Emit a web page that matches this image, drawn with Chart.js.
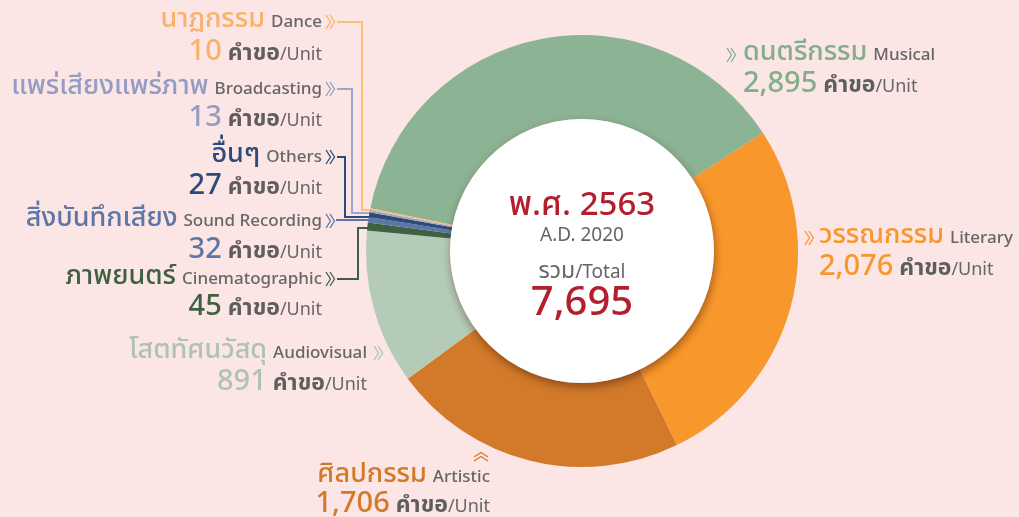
<!DOCTYPE html>
<html><head><meta charset="utf-8">
<script src="https://cdn.jsdelivr.net/npm/chart.js@4"></script>
<style>html,body{margin:0;padding:0;background:#FBE5E5;overflow:hidden}#wrap{width:1019px;height:517px;position:relative}</style>
</head><body><div id="wrap"><canvas id="c"></canvas></div>
<script>
const categoriesTh = ['ดนตรีกรรม','วรรณกรรม','ศิลปกรรม','โสตทัศนวัสดุ','ภาพยนตร์','สิ่งบันทึกเสียง','อื่นๆ','แพร่เสียงแพร่ภาพ','นาฏกรรม'];
const categoriesEn = ['Musical','Literary','Artistic','Audiovisual','Cinematographic','Sound Recording','Others','Broadcasting','Dance'];
const values = [2895,2076,1706,891,45,32,27,13,10];
const sliceColors = ['#8CB393','#F8972B','#D27A2A','#B4CBB7','#3D6242','#5C76A6','#2C4B7A','#9DA6CB','#FBBE7B'];
const textColors = ['#82AE8A','#F8972B','#D27A2A','#AFC3B1','#3D6242','#5C76A6','#2C4B7A','#939CC2','#F9B26B'];
const unitTh = 'คำขอ';
const unitEn = 'Unit';
const yearTh = 'พ.ศ. 2563';
const yearEn = 'A.D. 2020';
const totalTh = 'รวม';
const totalEn = 'Total';

const FONT = '"Noto Sans Thai","Noto Sans Thai UI","Noto Sans","DejaVu Sans",sans-serif';
const GRAY = '#666666';
const RED = '#B31F2D';

// layout of the annotation texts (positions only)
const layout = [
  {x:743, t:60,  v:92,  align:'left',  arrow:'before', ax:727},
  {x:819, t:243, v:275, align:'left',  arrow:'before', ax:805},
  {x:490, t:482, v:512, align:'right', arrow:'up',     ax:481, ay:455},
  {x:367, t:358, v:390, align:'right', arrow:'after',  ax:374},
  {x:322, t:284, v:315, align:'right', arrow:'after',  ax:326, xv:358, yh:228},
  {x:322, t:226, v:258, align:'right', arrow:'after',  ax:326, xv:337, yh:220},
  {x:322, t:162, v:194, align:'right', arrow:'after',  ax:326, xv:345, yh:217},
  {x:322, t:94,  v:126, align:'right', arrow:'after',  ax:326, xv:352, yh:213},
  {x:322, t:27,  v:60,  align:'right', arrow:'after',  ax:326, xv:362, yh:210}
];

function drawRich(ctx, segs, x, y, align){
  let widths = segs.map(s=>{ctx.font=s.font; return ctx.measureText(s.text).width;});
  let total = widths.reduce((a,b)=>a+b,0) + segs.reduce((a,s)=>a+(s.gap||0),0);
  let cx = align==='right' ? x-total : (align==='center' ? x-total/2 : x);
  ctx.textBaseline='alphabetic'; ctx.textAlign='left';
  segs.forEach((s,i)=>{cx += (s.gap||0); ctx.font=s.font; ctx.fillStyle=s.color; ctx.fillText(s.text,cx,y); cx+=widths[i];});
}
function dblRight(ctx,x,y,color){
  ctx.save(); ctx.strokeStyle=color; ctx.lineWidth=1.3; ctx.lineJoin='miter';
  for(let k=0;k<2;k++){ctx.beginPath();ctx.moveTo(x+k*4,y-7);ctx.lineTo(x+k*4+4.5,y);ctx.lineTo(x+k*4,y+7);ctx.stroke();}
  ctx.restore();
}
function dblUp(ctx,x,y,color){
  ctx.save(); ctx.strokeStyle=color; ctx.lineWidth=1.3;
  for(let k=0;k<2;k++){ctx.beginPath();ctx.moveTo(x-7,y+k*4+2);ctx.lineTo(x,y+k*4-2.5);ctx.lineTo(x+7,y+k*4+2);ctx.stroke();}
  ctx.restore();
}

const annot = {
  id:'annot',
  beforeDatasetsDraw(chart){
    const ctx=chart.ctx; const arc=chart.getDatasetMeta(0).data[0];
    const cx=arc.x, cy=arc.y, R=arc.outerRadius;
    ctx.save(); ctx.lineWidth=2;
    layout.forEach((L,i)=>{
      if(L.yh===undefined) return;
      const y0=L.t-5; const ex=cx-Math.sqrt(R*R-(L.yh-cy)*(L.yh-cy))+4;
      ctx.strokeStyle=sliceColors[i];
      ctx.beginPath(); ctx.moveTo(337,y0); ctx.lineTo(L.xv,y0); ctx.lineTo(L.xv,L.yh); ctx.lineTo(ex,L.yh); ctx.stroke();
    });
    ctx.restore();
  },
  afterDatasetsDraw(chart){
    const ctx=chart.ctx; const arc=chart.getDatasetMeta(0).data[0];
    const cx=arc.x, cy=arc.y, r=arc.innerRadius;
    ctx.save();
    ctx.shadowColor='rgba(60,20,0,0.45)'; ctx.shadowBlur=9; ctx.shadowOffsetX=1; ctx.shadowOffsetY=4;
    ctx.beginPath(); ctx.arc(cx,cy,r,0,Math.PI*2); ctx.fillStyle='#FFFFFF'; ctx.fill();
    ctx.restore();
    ctx.save();
    const total = values.reduce((a,b)=>a+b,0);
    drawRich(ctx,[{text:yearTh,font:'500 33px '+FONT,color:RED}],cx,215,'center');
    drawRich(ctx,[{text:yearEn,font:'19px '+FONT,color:GRAY}],cx,241,'center');
    drawRich(ctx,[{text:totalTh,font:'23px '+FONT,color:GRAY},{text:'/'+totalEn,font:'19px '+FONT,color:GRAY}],cx,278,'center');
    drawRich(ctx,[{text:total.toLocaleString('en-US'),font:'500 40px '+FONT,color:RED}],cx,315,'center');
    layout.forEach((L,i)=>{
      const tc=textColors[i];
      const titleSegs=[{text:categoriesTh[i],font:'500 27px '+FONT,color:tc},{text:categoriesEn[i],font:'500 17px '+FONT,color:GRAY,gap:6}];
      const valSegs=[{text:values[i].toLocaleString('en-US'),font:'500 29px '+FONT,color:tc},{text:unitTh,font:'bold 23px '+FONT,color:'#5E5E5E',gap:6},{text:'/'+unitEn,font:'18px '+FONT,color:GRAY}];
      drawRich(ctx,titleSegs,L.x,L.t,L.align);
      drawRich(ctx,valSegs,L.x,L.v,L.align);
      if(L.arrow==='before'||L.arrow==='after') dblRight(ctx,L.ax,L.t-5,tc);
      if(L.arrow==='up') dblUp(ctx,L.ax,L.ay,tc);
    });
    ctx.restore();
  }
};

new Chart(document.getElementById('c'),{
  type:'doughnut',
  data:{labels:categoriesEn,datasets:[{data:values,backgroundColor:sliceColors,borderWidth:0,hoverOffset:0}]},
  options:{
    responsive:true, maintainAspectRatio:false, animation:false,
    rotation:-78.6, cutout:132,
    layout:{padding:{left:366,right:221,top:35,bottom:50}},
    plugins:{legend:{display:false},tooltip:{enabled:false}},
    events:[]
  },
  plugins:[annot]
});
</script></body></html>
